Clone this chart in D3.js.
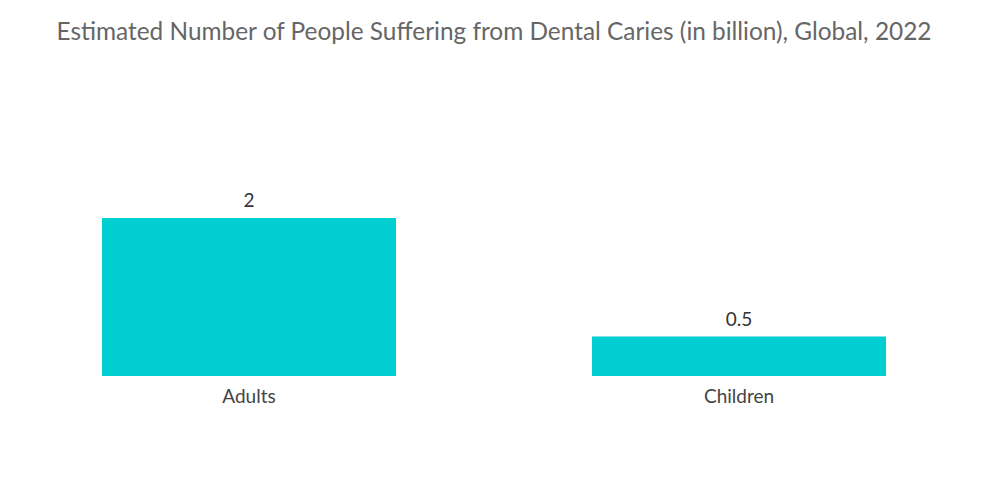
<!DOCTYPE html>
<html><head><meta charset="utf-8">
<script src="https://cdn.jsdelivr.net/npm/d3@7"></script>
<style>body{margin:0;background:#fff}svg{display:block}</style>
</head><body>
<svg id="chart" width="1000" height="504"></svg>
<script>
const categories = ["Adults", "Children"];
const values = [2, 0.5];
const valueLabels = ["2", "0.5"];
const title = "Estimated Number of People Suffering from Dental Caries (in billion), Global, 2022";

const svg = d3.select("#chart");
const font = "Lato, 'Open Sans', sans-serif";

svg.append("text").attr("x", 494).attr("y", 40).attr("text-anchor", "middle")
  .attr("font-family", font).attr("font-size", 24.4).attr("fill", "#666")
  .text(title);

const x = d3.scaleBand().domain(categories).range([4, 984]).paddingInner(0.4).paddingOuter(0.2);
const y = d3.scaleLinear().domain([0, 2]).range([376, 218]);

svg.selectAll("rect.bar").data(values).join("rect").attr("class", "bar")
  .attr("x", (d, i) => x(categories[i])).attr("width", x.bandwidth())
  .attr("y", d => y(d)).attr("height", d => y(0) - y(d)).attr("fill", "#00CED1");

svg.selectAll("text.val").data(values).join("text").attr("class", "val")
  .attr("x", (d, i) => x(categories[i]) + x.bandwidth() / 2).attr("y", d => y(d) - 11)
  .attr("text-anchor", "middle").attr("font-family", font).attr("font-size", 19).attr("fill", "#333")
  .text((d, i) => valueLabels[i]);

const ax = svg.append("g").attr("transform", `translate(0,${y(0)})`)
  .call(d3.axisBottom(x).tickSize(0).tickPadding(14));
ax.select(".domain").remove();
ax.selectAll("text").attr("font-family", font).attr("font-size", 19).attr("fill", "#444");
</script>
</body></html>
